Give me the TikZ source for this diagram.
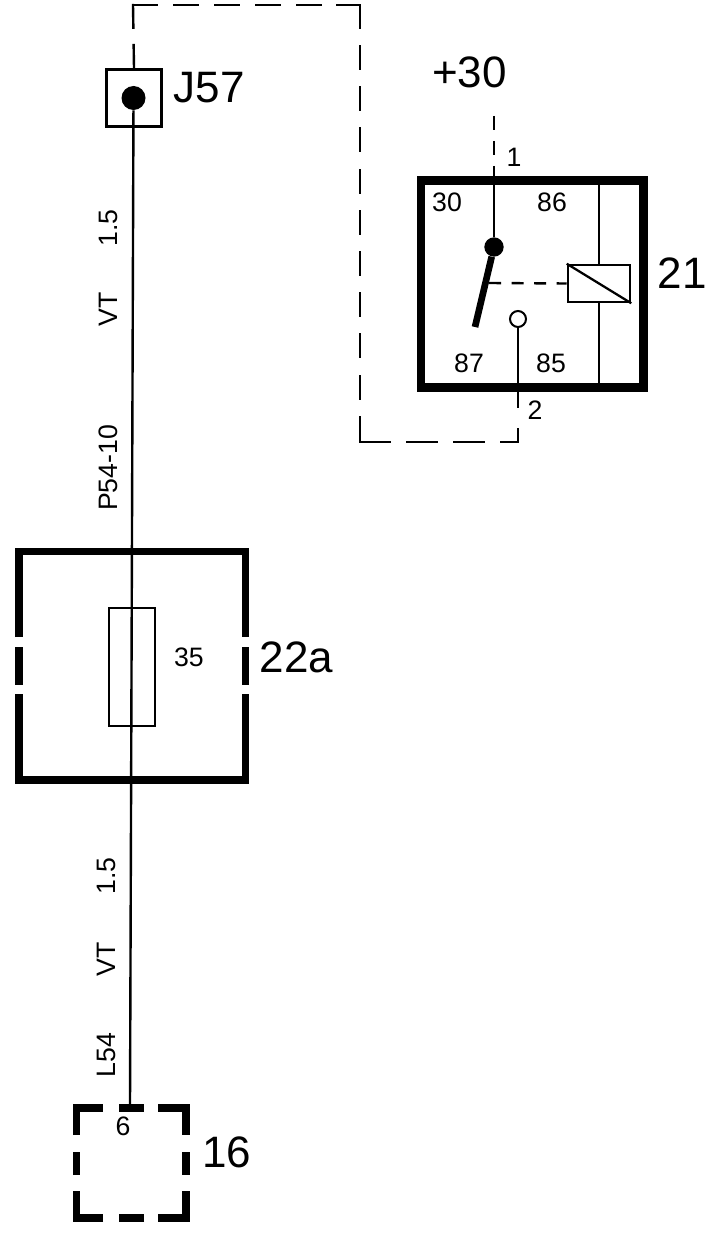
\documentclass[tikz,border=0pt]{standalone}
\usepackage{fontspec}
\setmainfont{Liberation Sans}
\usetikzlibrary{positioning}
\tikzset{
 wire/.style={draw, line width=1.8pt},
 module/.style={draw, rectangle, inner sep=0pt, line width=6.2pt},
 pinlabel/.style={inner sep=0pt, font=\fontsize{20}{20}\selectfont},
 wirelabel/.style={pinlabel, rotate=90},
 biglabel/.style={inner sep=0pt, font=\fontsize{33}{33}\selectfont},
 harness/.style={wire, line cap=rect}
}
\begin{document}
\begin{tikzpicture}[x=0.75pt,y=-0.75pt]
\useasboundingbox (0,0) rectangle (724,1248);
% nodes
\node[draw, rectangle, inner sep=0pt, line width=2.25pt, minimum width=41.25pt, minimum height=42.75pt] (J57box) at (134,98) {};%
\node[circle, fill=black, inner sep=0pt, minimum size=18pt] (J57dot) at (133.5,98) {};%
\node[biglabel, right=8pt of J57box, yshift=8pt] (J57text) {J57};%
\node[wirelabel] (size1) at (108,228) {1.5};%
\node[wirelabel] (colour1) at (108,309) {VT};%
\node[wirelabel] (cable1) at (108,468) {P54-10};%

\node[module, minimum width=166.9pt, minimum height=155.25pt] (relay) at (532.25,284) {};%
\node[biglabel, right=7.5pt of relay, yshift=8pt] (relaytext) {21};%
\node[biglabel] (supply) at (469.5,72) {+30};%
\node[pinlabel] (term30) at (447,202) {30};%
\node[pinlabel] (term86) at (552,202) {86};%
\node[pinlabel] (term87) at (469,363) {87};%
\node[pinlabel] (term85) at (551,363) {85};%
\node[pinlabel] (pin1) at (514,157) {1};%
\node[pinlabel] (pin2) at (535,410) {2};%
\node[circle, fill=black, inner sep=0pt, minimum size=14.5pt] (contact) at (494,247) {};%
\node[circle, draw, line width=1.5pt, inner sep=0pt, minimum size=12pt] (opencontact) at (518,319) {};%
\node[draw, rectangle, inner sep=0pt, line width=1.9pt, minimum width=46.5pt, minimum height=27.75pt] (coil) at (599,283.5) {};%

\node[draw, rectangle, inner sep=0pt, line width=1.7pt, minimum width=34.5pt, minimum height=88.5pt] (fuse) at (132,667) {};%
\node[pinlabel] (fuseamps) at (189,657) {35};%
\node[biglabel] (fusetext) at (296.5,657) {22a};%

\node[wirelabel] (size2) at (106,876) {1.5};%
\node[wirelabel] (colour2) at (106,959) {VT};%
\node[wirelabel] (cable2) at (106,1055) {L54};%
\node[pinlabel] (pin6) at (123,1126) {6};%
\node[biglabel] (ecutext) at (226.5,1152) {16};%

% free ends
\coordinate (feed) at (494,116);
\coordinate (armend) at (475,327);
\coordinate (armlink) at (489,283);
\coordinate (pin2end) at (518,408);
\coordinate (pin2dash) at (518,425);
\coordinate (ecupin) at (130,1106);
\coordinate (loopA) at (133,5);
\coordinate (loopB) at (360,5);
\coordinate (loopC) at (360,442);
\coordinate (loopD) at (518,442);

% fuse block
\draw[line width=5.8pt, line join=miter] (19,637) -- (19,551.5) -- (245.5,551.5) -- (245.5,637);
\draw[line width=5.8pt] (19,647) -- (19,685);
\draw[line width=5.8pt] (245.5,647) -- (245.5,685);
\draw[line width=5.4pt, line join=miter] (19,694) -- (19,780) -- (245.5,780) -- (245.5,694);

% connector 16
\draw[line width=5.6pt, line join=miter] (76.5,1135) -- (76.5,1108) -- (103,1108);
\draw[line width=5.6pt] (119,1108) -- (144,1108);
\draw[line width=5.6pt, line join=miter] (158,1108) -- (186,1108) -- (186,1135);
\draw[line width=5.6pt] (186,1152) -- (186,1175);
\draw[line width=5.6pt, line join=miter] (186,1191) -- (186,1218) -- (158,1218);
\draw[line width=5.6pt] (144,1218) -- (119,1218);
\draw[line width=5.6pt, line join=miter] (103,1218) -- (76.5,1218) -- (76.5,1191);
\draw[line width=5.6pt] (76.5,1175) -- (76.5,1152);

% edges
\draw[wire] (J57dot) -- (ecupin);
\draw[wire] (contact) -- (contact |- relay.north);
\draw[wire, dash pattern=on 10.5pt off 8.25pt] (feed) -- (contact |- relay.north);
\draw[line width=5pt] (contact) -- (armend);
\draw[wire, dash pattern=on 9pt off 7.9pt] (armlink) -- (coil.west);
\draw[wire] (coil.north) -- (coil.north |- relay.north);
\draw[wire] (coil.south) -- (coil.south |- relay.south);
\draw[line width=1.7pt] (coil.north west) -- (coil.south east);
\draw[wire] (opencontact) -- (pin2end);

% dashed loop
\draw[harness, dash pattern=on 17pt off 13pt] (loopA) -- (J57box.north);
\draw[harness, dash pattern=on 17.7pt off 13pt] (loopA) -- (loopB);
\draw[harness, dash pattern=on 17pt off 13.9pt] (loopB) -- (loopC);
\draw[harness, dash pattern=on 22.2pt off 13pt] (loopC) -- (loopD) -- (pin2dash);
\end{tikzpicture}
\end{document}
